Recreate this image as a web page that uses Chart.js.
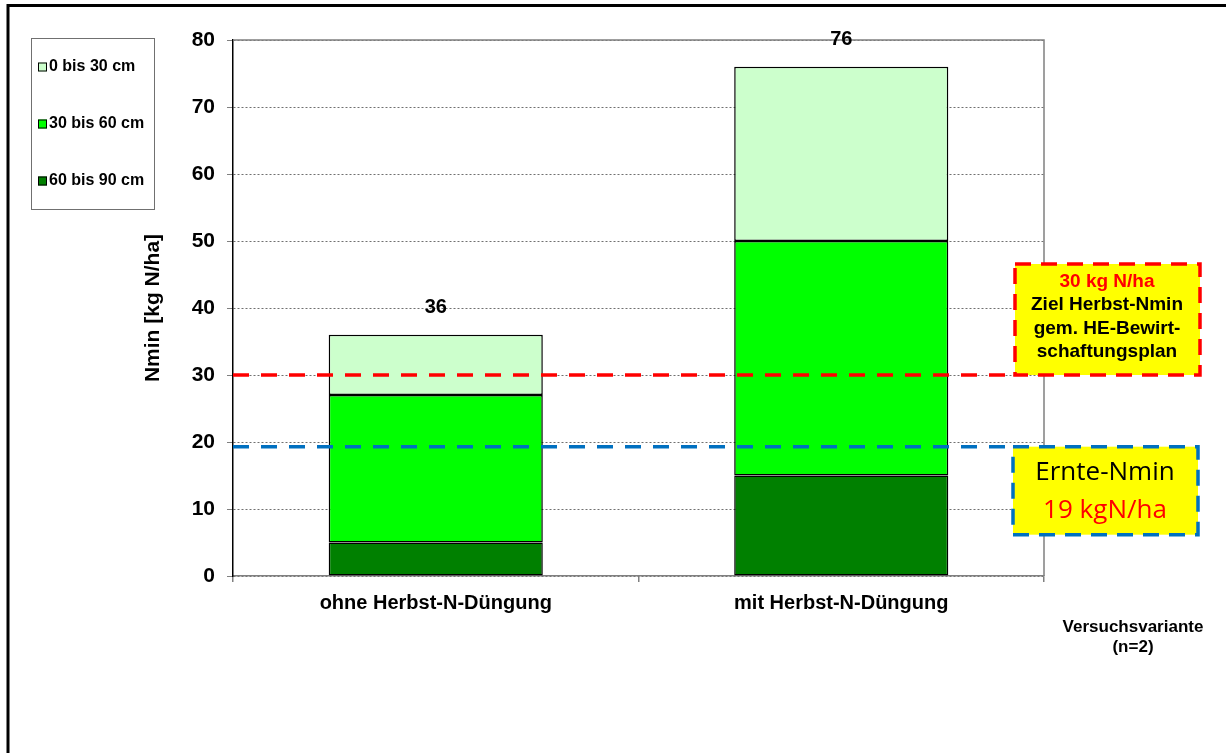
<!DOCTYPE html>
<html lang="de">
<head>
<meta charset="utf-8">
<title>Nmin Versuchsvariante</title>
<script src="https://cdn.jsdelivr.net/npm/chart.js@4.4.1/dist/chart.umd.min.js"></script>
<style>
  html, body { margin: 0; padding: 0; background: #fff; }
  #wrap { width: 1226px; height: 753px; position: relative; }
</style>
</head>
<body>
<div id="wrap"><canvas id="nmin" width="1226" height="753"></canvas></div>
<script>
// Daten
const categories = ['ohne Herbst-N-Düngung', 'mit Herbst-N-Düngung'];
const layer0to30 = [9, 26];
const layer30to60 = [22, 35];
const layer60to90 = [5, 15];
const yTickValues = [0, 10, 20, 30, 40, 50, 60, 70, 80];
const zielHerbstNmin = 30;
const ernteNminLine = 19.3;

const FONT = '"Liberation Sans", Arial, sans-serif';

// Rahmen, Legende, Schwellenlinien, Textkästen
const extrasPlugin = {
  id: 'extras',
  afterDatasetsDraw(chart) {
    const ctx = chart.ctx;
    const area = chart.chartArea;
    const y = chart.scales.y;

    // Rand oben und rechts der Zeichenfläche
    ctx.save();
    ctx.strokeStyle = '#808080';
    ctx.lineWidth = 1.5;
    ctx.beginPath();
    ctx.moveTo(area.left, area.top);
    ctx.lineTo(area.right, area.top);
    ctx.lineTo(area.right, area.bottom);
    ctx.stroke();

    // Summen über den Säulen
    const meta = chart.getDatasetMeta(0);
    ctx.fillStyle = '#000';
    ctx.font = 'bold 20px ' + FONT;
    ctx.textAlign = 'center';
    ctx.textBaseline = 'middle';
    categories.forEach((c, i) => {
      const total = layer0to30[i] + layer30to60[i] + layer60to90[i];
      ctx.fillText(String(total), meta.data[i].x, y.getPixelForValue(total) - 27);
    });

    // gestrichelte Linien
    ctx.lineWidth = 3.5;
    ctx.setLineDash([16, 12]);
    ctx.strokeStyle = '#ff0000';
    const yRed = y.getPixelForValue(zielHerbstNmin);
    ctx.beginPath();
    ctx.moveTo(area.left, yRed);
    ctx.lineTo(1015, yRed);
    ctx.stroke();
    ctx.strokeStyle = '#0070c0';
    const yBlue = y.getPixelForValue(ernteNminLine);
    ctx.beginPath();
    ctx.moveTo(area.left, yBlue);
    ctx.lineTo(1013, yBlue);
    ctx.stroke();

    // roter Kasten
    const redTop = yRed - 111;
    ctx.fillStyle = '#ffff00';
    ctx.fillRect(1015, redTop, 185, 111);
    ctx.strokeStyle = '#ff0000';
    ctx.setLineDash([16, 10]);
    ctx.strokeRect(1015, redTop, 185, 111);
    ctx.setLineDash([]);
    ctx.font = 'bold 19px ' + FONT;
    ctx.fillStyle = '#ff0000';
    ctx.fillText('30 kg N/ha', 1107, redTop + 18);
    ctx.fillStyle = '#000';
    ctx.fillText('Ziel Herbst-Nmin', 1107, redTop + 41);
    ctx.fillText('gem. HE-Bewirt-', 1107, redTop + 65);
    ctx.fillText('schaftungsplan', 1107, redTop + 88);

    // blauer Kasten
    const blueTop = yBlue;
    ctx.fillStyle = '#ffff00';
    ctx.fillRect(1013, blueTop, 185, 88);
    ctx.strokeStyle = '#0070c0';
    ctx.setLineDash([16, 10]);
    ctx.strokeRect(1013, blueTop, 185, 88);
    ctx.setLineDash([]);
    ctx.font = '26px "Open Sans", sans-serif';
    ctx.fillStyle = '#000';
    ctx.fillText('Ernte-Nmin', 1105, blueTop + 26);
    ctx.fillStyle = '#ff0000';
    ctx.fillText('19 kgN/ha', 1105, blueTop + 64);
    ctx.restore();
  },
  afterDraw(chart) {
    const ctx = chart.ctx;
    ctx.save();
    // äußerer Rahmen
    ctx.strokeStyle = '#000';
    ctx.lineWidth = 3;
    ctx.beginPath();
    ctx.moveTo(1226, 5.5);
    ctx.lineTo(8, 5.5);
    ctx.lineTo(8, 753);
    ctx.stroke();

    // Legende
    ctx.strokeStyle = '#707070';
    ctx.lineWidth = 1;
    ctx.strokeRect(31.5, 38.5, 123, 171);
    const items = chart.data.datasets.slice().reverse();
    const rowY = [67, 124, 181];
    ctx.font = 'bold 16px ' + FONT;
    ctx.textAlign = 'left';
    ctx.textBaseline = 'middle';
    items.forEach((ds, i) => {
      ctx.fillStyle = ds.backgroundColor;
      ctx.fillRect(38, rowY[i] - 4.5, 9, 9);
      ctx.strokeStyle = '#000';
      ctx.strokeRect(38.5, rowY[i] - 4, 8, 8);
      ctx.fillStyle = '#000';
      ctx.fillText(ds.label, 49, rowY[i]);
    });

    // Achsenbeschriftung x
    ctx.font = 'bold 17px ' + FONT;
    ctx.textAlign = 'center';
    ctx.fillText('Versuchsvariante', 1133, 627);
    ctx.fillText('(n=2)', 1133, 647);
    ctx.restore();
  }
};

const barBase = {
  borderColor: '#000',
  borderWidth: 1.5,
  borderSkipped: false,
  barPercentage: 0.528,
  categoryPercentage: 1.0
};

new Chart(document.getElementById('nmin'), {
  type: 'bar',
  data: {
    labels: categories,
    datasets: [
      Object.assign({ label: '60 bis 90 cm', data: layer60to90, backgroundColor: '#008000' }, barBase),
      Object.assign({ label: '30 bis 60 cm', data: layer30to60, backgroundColor: '#00ff00' }, barBase),
      Object.assign({ label: '0 bis 30 cm', data: layer0to30, backgroundColor: '#ccffcc' }, barBase)
    ]
  },
  options: {
    responsive: false,
    animation: false,
    layout: { padding: { left: 130, right: 182, top: 40, bottom: 0 } },
    plugins: {
      legend: { display: false },
      tooltip: { enabled: false }
    },
    scales: {
      x: {
        stacked: true,
        afterFit(scale) { scale.height = 177; },
        border: { color: '#808080', width: 1.5 },
        grid: { drawOnChartArea: false, tickLength: 6, color: '#808080', lineWidth: 1.5 },
        ticks: { color: '#000', padding: 9, font: { family: FONT, size: 20, weight: 'bold' } }
      },
      y: {
        stacked: true,
        min: 0,
        max: 80,
        afterFit(scale) { scale.width = 103; },
        afterBuildTicks(scale) { scale.ticks = yTickValues.map(v => ({ value: v })); },
        border: { color: '#000', width: 1.5, dash: [2, 2] },
        grid: {
          color: '#707070',
          lineWidth: 1,
          tickBorderDash: [],
          tickColor: '#808080',
          tickLength: 6
        },
        ticks: { color: '#000', padding: 12, font: { family: FONT, size: 21, weight: 'bold' } },
        title: {
          display: true,
          text: 'Nmin [kg N/ha]',
          color: '#000',
          padding: { top: 11, bottom: 0 },
          font: { family: FONT, size: 21, weight: 'bold' }
        }
      }
    }
  },
  plugins: [extrasPlugin]
});
</script>
</body>
</html>
